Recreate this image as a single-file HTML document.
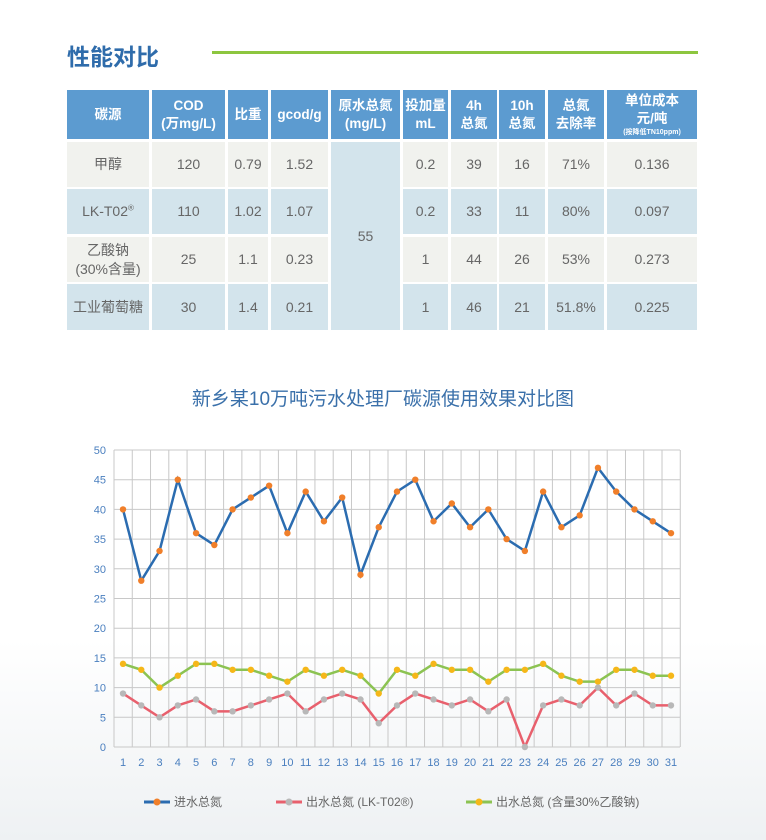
<!DOCTYPE html><html><head><meta charset="utf-8"><style>
body{margin:0;width:766px;height:840px;position:relative;overflow:hidden;background:linear-gradient(#fff 0,#fff 640px,#eef1f3 840px);font-family:"Liberation Sans","Noto Sans CJK SC",sans-serif}
.c{position:absolute;display:flex;align-items:center;justify-content:center;text-align:center;box-sizing:border-box;color:#666;font-size:14px;line-height:1.35}
.h{background:#5c9bd0;color:#fff;font-weight:bold;font-size:13.5px;line-height:1.3}
.a{background:#f1f2ee}.b{background:#d3e4ec}
</style></head><body>
<div style="position:absolute;left:67px;top:38px;font-size:23px;font-weight:bold;color:#2f6cab">性能对比</div>
<div style="position:absolute;left:212px;top:51px;width:486px;height:3px;background:#8dc63f"></div>
<div id="t"></div>
<svg style="position:absolute;left:0;top:0" width="766" height="840" id="s"></svg>
<script>
var xs=[[67,149],[152,225],[228,268],[271,328],[331,400],[403,448],[451,497],[499,545],[548,604],[607,697]];
var hd=["碳源","COD<br>(万mg/L)","比重","gcod/g","原水总氮<br>(mg/L)","投加量<br>mL","4h<br>总氮","10h<br>总氮","总氮<br>去除率","<div>单位成本<br>元/吨<div style='font-size:7px;line-height:9px'>(按降低TN10ppm)</div></div>"];
var rows=[[142,187,"a"],[189,234,"b"],[237,282,"a"],[284,330,"b"]];
var d=[["甲醇","120","0.79","1.52","","0.2","39","16","71%","0.136"],["LK-T02<sup style='font-size:8px'>®</sup>","110","1.02","1.07","","0.2","33","11","80%","0.097"],["乙酸钠<br>(30%含量)","25","1.1","0.23","","1","44","26","53%","0.273"],["工业葡萄糖","30","1.4","0.21","","1","46","21","51.8%","0.225"]];
var h="";
xs.forEach(function(x,i){h+='<div class="c h" style="left:'+x[0]+'px;top:90px;width:'+(x[1]-x[0])+'px;height:49px">'+(i==9?hd[i]:'<div>'+hd[i]+'</div>')+'</div>';});
rows.forEach(function(r,j){xs.forEach(function(x,i){if(i==4)return;h+='<div class="c '+r[2]+'" style="left:'+x[0]+'px;top:'+r[0]+'px;width:'+(x[1]-x[0])+'px;height:'+(r[1]-r[0])+'px"><div>'+d[j][i]+'</div></div>';});});
h+='<div class="c b" style="left:331px;top:142px;width:69px;height:188px">55</div>';
document.getElementById("t").innerHTML=h;
var B=[40,28,33,45,36,34,40,42,44,36,43,38,42,29,37,43,45,38,41,37,40,35,33,43,37,39,47,43,40,38,36];
var R=[9,7,5,7,8,6,6,7,8,9,6,8,9,8,4,7,9,8,7,8,6,8,0,7,8,7,10,7,9,7,7];
var G=[14,13,10,12,14,14,13,13,12,11,13,12,13,12,9,13,12,14,13,13,11,13,13,14,12,11,11,13,13,12,12];
var s='<text x="383" y="405" text-anchor="middle" font-size="19" fill="#3a70aa">新乡某10万吨污水处理厂碳源使用效果对比图</text>';
var X=function(i){return 123+i*18.267},Y=function(v){return 747-v*5.94};
for(var v=0;v<=50;v+=5){s+='<line x1="114" x2="680" y1="'+Y(v)+'" y2="'+Y(v)+'" stroke="#c8c8c8"/><text x="106" y="'+(Y(v)+4)+'" text-anchor="end" font-size="11" fill="#4a7fbf">'+v+'</text>';}
for(var i=0;i<=31;i++){var x=114+i*18.267;s+='<line x1="'+x+'" x2="'+x+'" y1="450" y2="747" stroke="#c8c8c8"/>';}
for(i=0;i<31;i++)s+='<text x="'+X(i)+'" y="766" text-anchor="middle" font-size="11" fill="#4a7fbf">'+(i+1)+'</text>';
function ser(a,c,m){var p=a.map(function(v,i){return X(i)+","+Y(v)}).join(" ");s+='<polyline points="'+p+'" fill="none" stroke="'+c+'" stroke-width="2.5"/>';a.forEach(function(v,i){s+='<circle cx="'+X(i)+'" cy="'+Y(v)+'" r="3.2" fill="'+m+'"/>';});}
ser(G,"#8cc352","#f5b719");ser(R,"#e8606d","#b8b8b8");ser(B,"#2b6cb0","#f07f2a");
function lg(x,c,m,t){s+='<line x1="'+x+'" x2="'+(x+26)+'" y1="802" y2="802" stroke="'+c+'" stroke-width="3"/><circle cx="'+(x+13)+'" cy="802" r="3.5" fill="'+m+'"/><text x="'+(x+30)+'" y="806" font-size="12" fill="#666">'+t+'</text>';}
lg(144,"#2b6cb0","#f07f2a","进水总氮");lg(276,"#e8606d","#b8b8b8","出水总氮 (LK-T02®)");lg(466,"#8cc352","#f5b719","出水总氮 (含量30%乙酸钠)");
document.getElementById("s").innerHTML=s;
</script></body></html>
